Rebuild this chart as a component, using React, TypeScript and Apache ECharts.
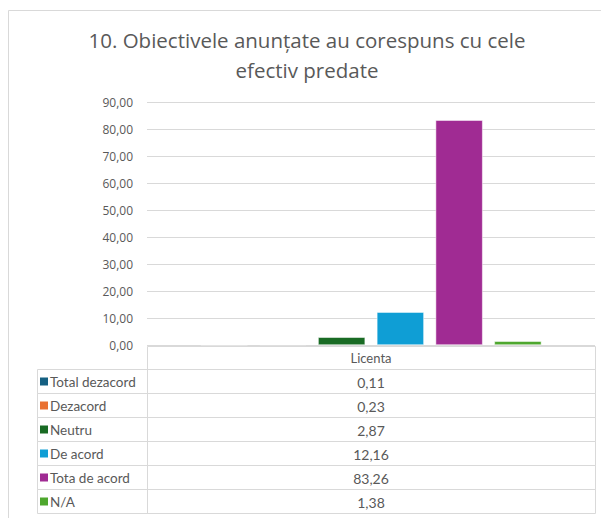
import React, { useEffect, useRef } from "react";
import * as echarts from "echarts";

const categories = ["Licenta"];
const seriesNames = ["Total dezacord", "Dezacord", "Neutru", "De acord", "Tota de acord", "N/A"];
const seriesValues = [0.11, 0.23, 2.87, 12.16, 83.26, 1.38];
const seriesColors = ["#156082", "#E97132", "#196B24", "#0F9ED5", "#A02B93", "#4EA72E"];
const titleLines = ["10. Obiectivele anunțate au corespuns cu cele", "efectiv predate"];

const FONT = "'Open Sans', 'Noto Sans', sans-serif";
const TFONT = "Lato, 'Open Sans', sans-serif";
const TXT = "#595959";
const LINE = "#d9d9d9";

export default function App() {
  const ref = useRef<HTMLDivElement>(null);
  useEffect(() => {
    if (!ref.current) return;
    const chart = echarts.init(ref.current, undefined, { renderer: "svg" });
    const gridLeft = 147;
    const gridRight = 595;
    const gridTop = 102;
    const gridBottom = 345;
    const tableLeft = 37;
    const rowH = 24;
    const headTop = 346;
    const midX = (gridLeft + gridRight) / 2;

    const graphics: any[] = [];
    graphics.push({ type: "line", shape: { x1: 8.5, y1: 10.5, x2: 601, y2: 10.5 }, style: { stroke: "#d9d9d9", lineWidth: 1 } });
    graphics.push({ type: "line", shape: { x1: 8.5, y1: 10.5, x2: 8.5, y2: 518 }, style: { stroke: "#d9d9d9", lineWidth: 1 } });
    titleLines.forEach((t, i) => {
      graphics.push({
        type: "text",
        x: 307,
        y: 40 + i * 30,
        style: { text: t, fill: TXT, font: `20.5px ${FONT}`, textAlign: "center", textVerticalAlign: "middle" },
      });
    });
    graphics.push({
      type: "rect",
      shape: { x: gridLeft + 0.5, y: headTop + 0.5, width: gridRight - gridLeft, height: rowH - 1 },
      style: { fill: "none", stroke: LINE, lineWidth: 1 },
    });
    graphics.push({
      type: "text",
      x: midX,
      y: headTop + rowH / 2,
      style: { text: categories[0], fill: TXT, font: `13px ${TFONT}`, textAlign: "center", textVerticalAlign: "middle" },
    });
    const bodyTop = headTop + rowH - 1;
    seriesNames.forEach((name, i) => {
      const y = bodyTop + i * rowH;
      graphics.push({
        type: "rect",
        shape: { x: tableLeft + 0.5, y: y + 0.5, width: gridRight - tableLeft, height: rowH },
        style: { fill: "none", stroke: LINE, lineWidth: 1 },
      });
      graphics.push({
        type: "rect",
        shape: { x: tableLeft + 3, y: y + rowH / 2 - 3.5, width: 8, height: 8 },
        style: { fill: seriesColors[i] },
      });
      graphics.push({
        type: "text",
        x: tableLeft + 13,
        y: y + rowH / 2 + 1,
        style: { text: name, fill: TXT, font: `13.5px ${TFONT}`, textAlign: "left", textVerticalAlign: "middle" },
      });
      graphics.push({
        type: "text",
        x: midX,
        y: y + rowH / 2 + 1,
        style: {
          text: seriesValues[i].toFixed(2).replace(".", ","),
          fill: TXT,
          font: `14px ${TFONT}`,
          textAlign: "center",
          textVerticalAlign: "middle",
        },
      });
    });
    graphics.push({
      type: "line",
      shape: { x1: gridLeft + 0.5, y1: bodyTop, x2: gridLeft + 0.5, y2: bodyTop + rowH * seriesNames.length },
      style: { stroke: LINE, lineWidth: 1 },
    });

    chart.setOption({
      animation: false,
      grid: { left: gridLeft, right: 601 - gridRight, top: gridTop, bottom: 518 - gridBottom, containLabel: false },
      xAxis: {
        type: "category",
        data: categories,
        axisLine: { show: false },
        axisTick: { show: false },
        axisLabel: { show: false },
      },
      yAxis: {
        type: "value",
        min: 0,
        max: 90,
        interval: 10,
        axisLine: { show: false },
        axisTick: { show: false },
        splitLine: { lineStyle: { color: LINE, width: 1 } },
        axisLabel: {
          color: TXT,
          fontSize: 12,
          fontFamily: FONT,
          margin: 14,
          formatter: (v: number) => v.toFixed(2).replace(".", ","),
        },
      },
      series: seriesNames.map((name, i) => ({
        name,
        type: "bar",
        data: [seriesValues[i]],
        barWidth: 47,
        barGap: "25%",
        itemStyle: { color: seriesColors[i], borderColor: "#ffffff", borderWidth: 0.5 },
      })),
      graphic: graphics,
    });
    return () => chart.dispose();
  }, []);
  return <div ref={ref} style={{ position: "fixed", left: 0, top: 0, width: 601, height: 518, background: "#fff" }} />;
}
